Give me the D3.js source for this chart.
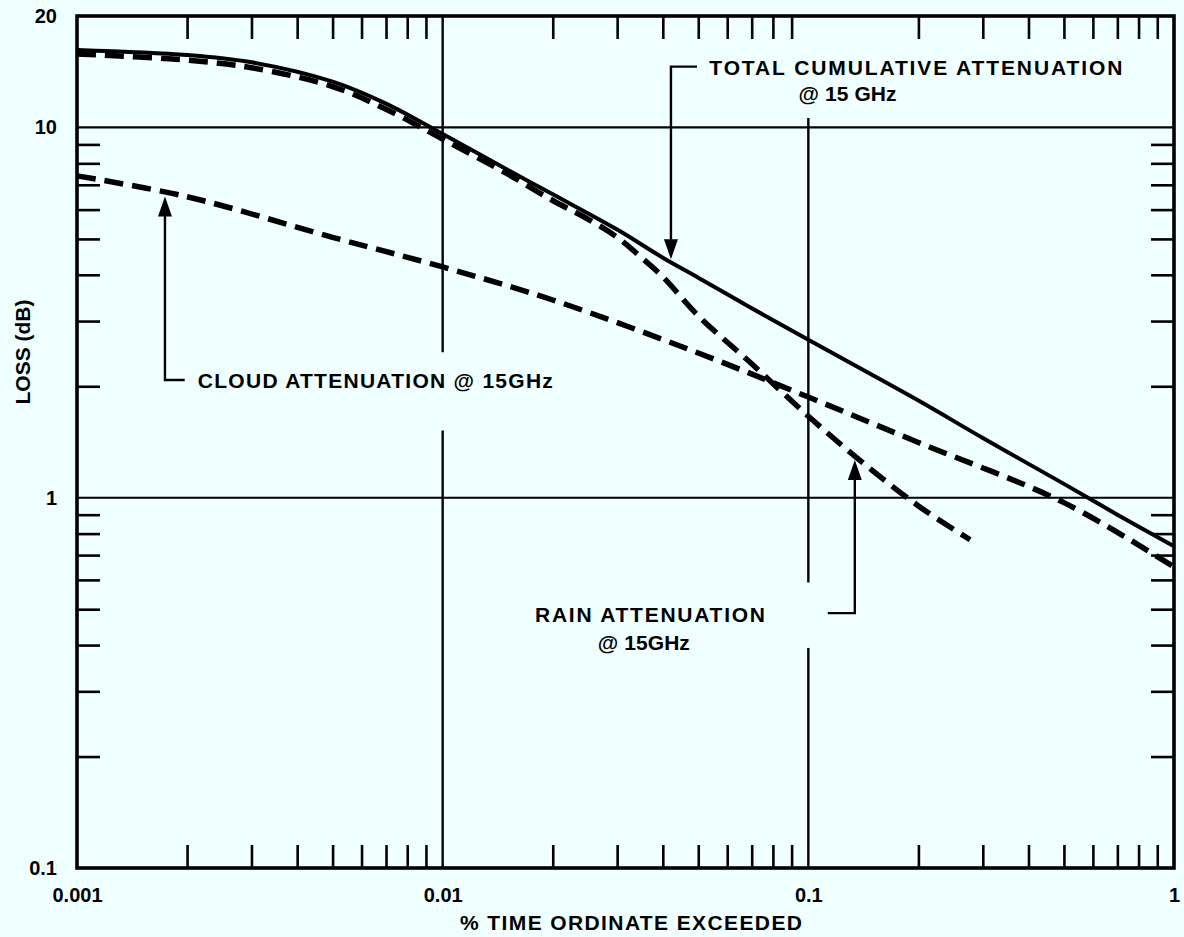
<!DOCTYPE html>
<html>
<head>
<meta charset="utf-8">
<script src="https://cdn.jsdelivr.net/npm/d3@7"></script>
<style>
  html, body { margin: 0; padding: 0; background: #f0ffff; }
  svg { display: block; }
  text { font-family: "Liberation Sans", Arial, sans-serif; font-weight: bold; fill: #000; }
</style>
</head>
<body>
<svg id="chart" width="1184" height="937"></svg>
<script>
// --- data: % of time a given loss (dB) is exceeded, 15 GHz link ---
const totalPct  = [0.001, 0.002, 0.003, 0.005, 0.007, 0.01, 0.015, 0.02, 0.03, 0.04, 0.05, 0.07, 0.1, 0.2, 0.3, 0.5, 0.7, 1];
const totalLoss = [16.2, 15.7, 15.0, 13.3, 11.6, 9.6, 7.7, 6.6, 5.3, 4.45, 3.93, 3.25, 2.67, 1.83, 1.45, 1.09, 0.9, 0.74];

const rainPct  = [0.001, 0.002, 0.003, 0.005, 0.007, 0.01, 0.015, 0.02, 0.025, 0.03, 0.035, 0.04, 0.05, 0.07, 0.1, 0.14, 0.2, 0.277];
const rainLoss = [15.8, 15.2, 14.5, 12.9, 11.2, 9.3, 7.5, 6.35, 5.65, 5.05, 4.45, 3.95, 3.1, 2.3, 1.66, 1.25, 0.95, 0.77];

const cloudPct  = [0.001, 0.002, 0.005, 0.01, 0.02, 0.05, 0.1, 0.2, 0.5, 1];
const cloudLoss = [7.4, 6.5, 5.05, 4.2, 3.42, 2.46, 1.87, 1.41, 0.97, 0.65];

const xTickValues = [0.001, 0.01, 0.1, 1];
const xTickLabels = ["0.001", "0.01", "0.1", "1"];
const yTickValues = [0.1, 1, 10, 20];
const yTickLabels = ["0.1", "1", "10", "20"];

// --- layout ---
const W = 1184, H = 937;
const frame = { left: 77, right: 1174, top: 16, bottom: 868 };
const INK = "#000";
const FONT = 21;

const svg = d3.select("#chart");
svg.append("rect").attr("width", W).attr("height", H).attr("fill", "#f0ffff");

const x = d3.scaleLog().domain([0.001, 1]).range([frame.left, frame.right]);
const y = d3.scaleLog().domain([0.1, 20]).range([frame.bottom, frame.top]);

// log-log interpolation along a series
function lossAt(xs, ys, v) {
  const lv = Math.log10(v);
  for (let i = 0; i < xs.length - 1; i++) {
    const a = Math.log10(xs[i]), b = Math.log10(xs[i + 1]);
    if (lv >= a && lv <= b) {
      const t = (lv - a) / (b - a);
      return Math.pow(10, Math.log10(ys[i]) + t * (Math.log10(ys[i + 1]) - Math.log10(ys[i])));
    }
  }
  return ys[ys.length - 1];
}

// --- minor ticks (inward on all four sides) ---
const xMinor = x.ticks().filter(v => !xTickValues.includes(v));
const yMinor = y.ticks().filter(v => v < 10 && !yTickValues.includes(v));
const TICK = 23;

function styleTicks(g) {
  g.select(".domain").remove();
  g.selectAll(".tick line").attr("stroke", INK).attr("stroke-width", 2.6);
  g.selectAll(".tick text").remove();
}

svg.append("g").attr("transform", `translate(0,${frame.bottom})`)
  .call(d3.axisBottom(x).tickValues(xMinor).tickSizeInner(-TICK).tickSizeOuter(0)).call(styleTicks);
svg.append("g").attr("transform", `translate(0,${frame.top})`)
  .call(d3.axisTop(x).tickValues(xMinor).tickSizeInner(-TICK).tickSizeOuter(0)).call(styleTicks);
svg.append("g").attr("transform", `translate(${frame.left},0)`)
  .call(d3.axisLeft(y).tickValues(yMinor).tickSizeInner(-TICK).tickSizeOuter(0)).call(styleTicks);
svg.append("g").attr("transform", `translate(${frame.right},0)`)
  .call(d3.axisRight(y).tickValues(yMinor).tickSizeInner(-TICK).tickSizeOuter(0)).call(styleTicks);

// --- decade grid lines ---
[1, 10].forEach(v => {
  svg.append("line")
    .attr("x1", frame.left).attr("x2", frame.right)
    .attr("y1", y(v)).attr("y2", y(v))
    .attr("stroke", INK).attr("stroke-width", 2.2);
});
// vertical decade lines, broken where annotation labels pass
const vGrid = [
  { at: 0.01, segments: [[20, 2.47], [1.52, 0.1]] },
  { at: 0.1,  segments: [[10.6, 0.59], [0.393, 0.1]] }
];
vGrid.forEach(g => g.segments.forEach(([a, b]) => {
  svg.append("line")
    .attr("x1", x(g.at)).attr("x2", x(g.at))
    .attr("y1", y(a)).attr("y2", y(b))
    .attr("stroke", INK).attr("stroke-width", 2.4);
}));

// --- frame ---
svg.append("rect")
  .attr("x", frame.left).attr("y", frame.top)
  .attr("width", frame.right - frame.left).attr("height", frame.bottom - frame.top)
  .attr("fill", "none").attr("stroke", INK).attr("stroke-width", 3.6);

// --- tick labels ---
const xLabelAxis = d3.axisBottom(x).tickValues(xTickValues).tickSize(0).tickPadding(20)
  .tickFormat((d, i) => xTickLabels[i]);
const gxl = svg.append("g").attr("transform", `translate(0,${frame.bottom})`).call(xLabelAxis);
gxl.select(".domain").remove();
gxl.selectAll("text").attr("font-size", 20).attr("font-family", null);

const yLabelAxis = d3.axisLeft(y).tickValues(yTickValues).tickSize(0).tickPadding(20)
  .tickFormat((d, i) => yTickLabels[i]);
const gyl = svg.append("g").attr("transform", `translate(${frame.left},0)`).call(yLabelAxis);
gyl.select(".domain").remove();
gyl.selectAll("text").attr("font-size", 20).attr("font-family", null);

// --- axis titles ---
svg.append("text")
  .attr("x", 631).attr("y", 930)
  .attr("text-anchor", "middle").attr("font-size", FONT)
  .attr("textLength", 342).attr("lengthAdjust", "spacing")
  .text("% TIME ORDINATE EXCEEDED");
svg.append("text")
  .attr("transform", "translate(30,352) rotate(-90)")
  .attr("text-anchor", "middle").attr("font-size", FONT)
  .attr("textLength", 105).attr("lengthAdjust", "spacing")
  .text("LOSS (dB)");

// --- curves ---
const line = d3.line().x(d => x(d[0])).y(d => y(d[1])).curve(d3.curveCatmullRom.alpha(0.5));
const cloudPts = cloudPct.map((v, i) => [v, cloudLoss[i]]);
const rainPts  = rainPct.map((v, i) => [v, rainLoss[i]]);
const totalPts = totalPct.map((v, i) => [v, totalLoss[i]]);

svg.append("path").datum(cloudPts).attr("d", line)
  .attr("fill", "none").attr("stroke", INK).attr("stroke-width", 5.5)
  .attr("stroke-dasharray", "19 9");
svg.append("path").datum(rainPts).attr("d", line)
  .attr("fill", "none").attr("stroke", INK).attr("stroke-width", 5.5)
  .attr("stroke-dasharray", "19 9");
svg.append("path").datum(totalPts).attr("d", line)
  .attr("fill", "none").attr("stroke", INK).attr("stroke-width", 4);

// --- annotation leaders with arrowheads ---
function arrowHead(px, py, dir) {
  // dir = 1 points down, -1 points up; tip at (px, py)
  const hw = 7, hl = 20;
  svg.append("path")
    .attr("d", `M${px},${py} L${px - hw},${py - dir * hl} L${px + hw},${py - dir * hl} Z`)
    .attr("fill", INK);
}
function leader(pts) {
  svg.append("path").attr("d", d3.line()(pts))
    .attr("fill", "none").attr("stroke", INK).attr("stroke-width", 2.4);
}

// total cumulative attenuation
{
  const tx = 0.0421, elbow = 14.6;
  const px = x(tx), tipY = y(lossAt(totalPct, totalLoss, tx)) - 3;
  leader([[x(0.0496), y(elbow)], [px, y(elbow)], [px, tipY - 10]]);
  arrowHead(px, tipY, 1);
  svg.append("text").attr("x", x(0.0536)).attr("y", y(elbow) + 8)
    .attr("font-size", FONT).attr("textLength", 413).attr("lengthAdjust", "spacing")
    .text("TOTAL CUMULATIVE ATTENUATION");
  svg.append("text").attr("x", x(0.128)).attr("y", y(elbow) + 34)
    .attr("text-anchor", "middle").attr("font-size", FONT)
    .attr("textLength", 98).attr("lengthAdjust", "spacing")
    .text("@ 15 GHz");
}

// cloud attenuation
{
  const tx = 0.00174, elbow = 2.08;
  const px = x(tx), tipY = y(lossAt(cloudPct, cloudLoss, tx)) + 4;
  leader([[x(0.00197), y(elbow)], [px, y(elbow)], [px, tipY + 10]]);
  arrowHead(px, tipY, -1);
  svg.append("text").attr("x", x(0.00214)).attr("y", y(elbow) + 8)
    .attr("font-size", FONT).attr("textLength", 355).attr("lengthAdjust", "spacing")
    .text("CLOUD ATTENUATION @ 15GHz");
}

// rain attenuation
{
  const tx = 0.134, elbow = 0.488;
  const px = x(tx), tipY = y(lossAt(rainPct, rainLoss, tx)) + 4;
  leader([[x(0.113), y(elbow)], [px, y(elbow)], [px, tipY + 10]]);
  arrowHead(px, tipY, -1);
  svg.append("text").attr("x", x(0.0369)).attr("y", y(elbow) + 9)
    .attr("text-anchor", "middle").attr("font-size", FONT)
    .attr("textLength", 230).attr("lengthAdjust", "spacing")
    .text("RAIN ATTENUATION");
  svg.append("text").attr("x", x(0.0355)).attr("y", y(elbow) + 37)
    .attr("text-anchor", "middle").attr("font-size", FONT)
    .attr("textLength", 92).attr("lengthAdjust", "spacing")
    .text("@ 15GHz");
}
</script>
</body>
</html>
